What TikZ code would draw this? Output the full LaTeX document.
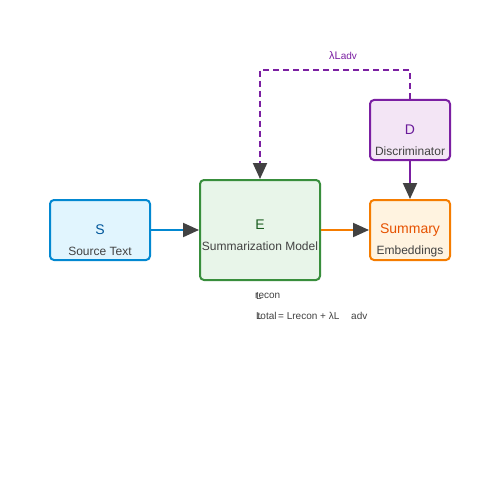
\documentclass[tikz,border=0pt]{standalone}
\usepackage{fontspec}
\setmainfont{Liberation Sans}
\usetikzlibrary{arrows.meta}
\definecolor{sblue}{HTML}{0288D1}
\definecolor{sbluef}{HTML}{E1F5FE}
\definecolor{egreen}{HTML}{388E3C}
\definecolor{egreenf}{HTML}{E8F5E9}
\definecolor{etext}{HTML}{1B5E20}
\definecolor{dpurp}{HTML}{7B1FA2}
\definecolor{dpurpf}{HTML}{F3E5F5}
\definecolor{dtext}{HTML}{6A1B9A}
\definecolor{orng}{HTML}{F57C00}
\definecolor{orngf}{HTML}{FFF3E0}
\definecolor{otext}{HTML}{E65100}
\definecolor{stext}{HTML}{01579B}
\definecolor{gtext}{HTML}{424242}
\definecolor{ahead}{HTML}{424242}
\tikzset{
  boxst/.style={draw, line width=2pt, rounded corners=4pt, inner sep=0pt},
  big/.style={font=\fontsize{14}{16}\selectfont},
  small/.style={font=\fontsize{12}{14}\selectfont, text=gtext},
  eq/.style={font=\fontsize{10}{12}\selectfont, text=gtext, inner sep=0pt, anchor=west},
  conn/.style={line width=2pt, -{Triangle[length=16pt,width=14pt,color=ahead]}}
}
\begin{document}
\begin{tikzpicture}[x=1pt,y=-1pt]
\useasboundingbox (0,0) rectangle (500,500);
\fill[white] (0,0) rectangle (500,500);
% boxes
\node[boxst, draw=sblue, fill=sbluef, minimum width=100pt, minimum height=60pt] (S) at (100,230) {};
\node[boxst, draw=egreen, fill=egreenf, minimum width=120pt, minimum height=100pt] (E) at (260,230) {};
\node[boxst, draw=dpurp, fill=dpurpf, minimum width=80pt, minimum height=60pt] (D) at (410,130) {};
\node[boxst, draw=orng, fill=orngf, minimum width=80pt, minimum height=60pt] (M) at (410,230) {};
% texts
\node[big, text=stext] (St) at (100,230) {S};
\node[small] (Sl) at (100,251) {Source Text};
\node[big, text=etext] (Et) at (260,225) {E};
\node[small] (El) at (260,246) {Summarization Model};
\node[big, text=dtext] (Dt) at (410,130) {D};
\node[small] (Dl) at (410,151) {Discriminator};
\node[big, text=otext] (Mt) at (410,230) {Summary};
\node[small] (Ml) at (410,251) {Embeddings};
% connectors
\draw[conn, draw=sblue] (S.east) -- (E.west);
\draw[conn, draw=orng] (E.east) -- (M.west);
\draw[conn, draw=dpurp] (D.south) -- (M.north);
\coordinate (c1) at (410,70);
\coordinate (c2) at (260,70);
\draw[conn, draw=dpurp, dash pattern=on 6pt off 4pt] (D.north) -- (c1) -- (c2) -- (E.north);
\node[font=\fontsize{11}{13}\selectfont, text=dpurp] (lab) at (343,56) {λL\fontsize{10}{12}\selectfont adv};
% equations
\node[eq] (r1) at (255,296) {recon};
\node[eq] (r1L) at (256,296) {L};
\node[eq] (r2) at (257.5,316) {total};
\node[eq] (r2L) at (256,316) {L};
\node[eq] (r3) at (278,316) {= Lrecon + λL};
\node[eq] (r4) at (351,316) {adv};
\end{tikzpicture}
\end{document}
